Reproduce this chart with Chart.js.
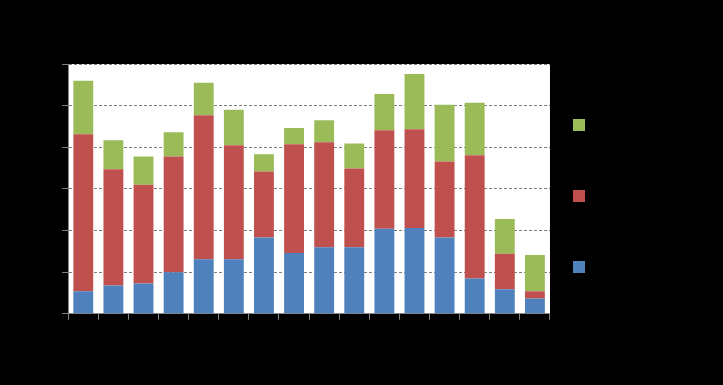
<!DOCTYPE html>
<html>
<head>
<meta charset="utf-8">
<script src="https://cdn.jsdelivr.net/npm/chart.js@4"></script>
<style>
  html, body { margin: 0; padding: 0; background: #000; }
  #wrap { width: 723px; height: 385px; }
</style>
</head>
<body>
<div id="wrap"><canvas id="chart_view"></canvas></div>
<script>
const labels = ['1','2','3','4','5','6','7','8','9','10','11','12','13','14','15','16'];
const series1 = [5.4, 6.8, 7.3, 10.0, 13.1, 13.1, 18.3, 14.6, 16.0, 16.0, 20.4, 20.6, 18.3, 8.5, 5.9, 3.7];
const series2 = [37.7, 27.9, 23.7, 27.8, 34.6, 27.4, 15.9, 26.1, 25.2, 18.9, 23.7, 23.7, 18.3, 29.6, 8.5, 1.7];
const series3 = [12.9, 7.0, 6.8, 5.8, 7.8, 8.5, 4.1, 3.9, 5.3, 6.0, 8.7, 13.3, 13.6, 12.6, 8.4, 8.7];
const yTicks = [0, 10, 20, 30, 40, 50, 60];

// white plot area on black page
const plotBg = {
  id: 'plotBg',
  beforeDraw(chart) {
    const a = chart.chartArea;
    const ctx = chart.ctx;
    ctx.save();
    ctx.fillStyle = '#ffffff';
    ctx.fillRect(a.left, a.top, a.right - a.left, a.bottom - a.top);
    ctx.restore();
  }
};

// pull the legend closer to the plot
const legendShift = {
  id: 'legendShift',
  afterLayout(chart) {
    chart.legend.left -= 36;
    chart.legend.top -= 11;
  }
};

const data = {
  labels: labels,
  datasets: [
    { label: 'Series 1', data: series1, backgroundColor: '#4F81BD' },
    { label: 'Series 2', data: series2, backgroundColor: '#C0504D' },
    { label: 'Series 3', data: series3, backgroundColor: '#9BBB59' }
  ]
};

const config = {
  type: 'bar',
  data: data,
  options: {
    responsive: true,
    maintainAspectRatio: false,
    animation: false,
    datasets: { bar: { categoryPercentage: 1, barPercentage: 0.66 } },
    layout: { padding: { left: 44, right: 42, top: 64, bottom: 46 } },
    scales: {
      x: {
        stacked: true,
        grid: { offset: true, drawOnChartArea: false, color: '#868686', tickLength: 6 },
        border: { color: '#868686' },
        ticks: { color: '#000', font: { size: 11 } }
      },
      y: {
        stacked: true,
        min: 0,
        max: 60,
        afterBuildTicks(axis) { axis.ticks = yTicks.map(v => ({ value: v })); },
        grid: { color: '#808080', tickLength: 6, tickBorderDash: [] },
        border: { color: '#868686', dash: [3, 2] },
        ticks: { color: '#000', font: { size: 11 } }
      }
    },
    plugins: {
      legend: {
        position: 'right',
        reverse: true,
        labels: { color: '#000', boxWidth: 12, boxHeight: 12, padding: 59, font: { size: 12 } }
      },
      tooltip: { enabled: false }
    }
  },
  plugins: [plotBg, legendShift]
};

var myChart = new Chart(document.getElementById('chart_view'), config);
</script>
</body>
</html>
